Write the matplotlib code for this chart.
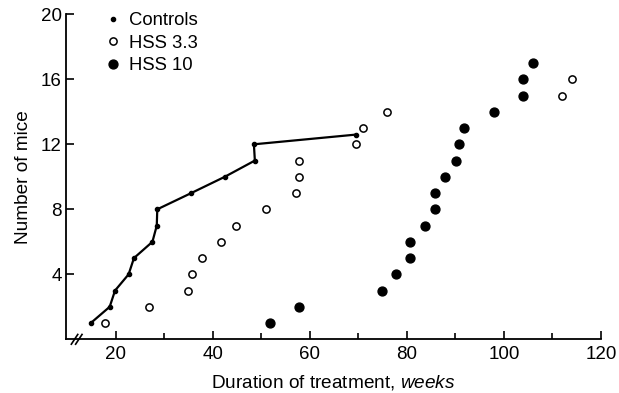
import matplotlib
matplotlib.use("Agg")
import matplotlib.pyplot as plt
from matplotlib.lines import Line2D

plt.rcParams['font.family'] = ['Liberation Sans', 'DejaVu Sans']
plt.rcParams['mathtext.fontset'] = 'custom'
plt.rcParams['mathtext.rm'] = 'Liberation Sans'
plt.rcParams['mathtext.it'] = 'Liberation Sans:italic'

# data (weeks, cumulative number of mice)
ctrl_weeks = [14.9, 18.8, 19.9, 22.7, 23.8, 27.6, 28.5, 28.6, 35.6, 42.5, 48.7, 48.5, 69.6]
ctrl_mice = [1, 2, 3, 4, 5, 6, 7, 8, 9, 10, 11, 12, 12.6]

hss33_weeks = [17.9, 26.9, 34.9, 35.8, 37.8, 41.7, 44.8, 50.9, 57.2, 57.8, 57.7,
               69.6, 70.9, 75.9, 112.0, 114.0]
hss33_mice = [1, 2, 3, 4, 5, 6, 7, 8, 9, 10, 11, 12, 13, 14, 15, 16]

hss10_weeks = [51.9, 57.8, 74.8, 77.8, 80.6, 80.6, 83.8, 85.8, 85.9, 87.8, 90.1,
               90.7, 91.7, 98.0, 103.9, 103.9, 105.9]
hss10_mice = [1, 2, 3, 4, 5, 6, 7, 8, 9, 10, 11, 12, 13, 14, 15, 16, 17]

xticks = [20, 40, 60, 80, 100, 120]
yticks = [4, 8, 12, 16, 20]

fig = plt.figure(figsize=(6.19, 3.93), dpi=100)
ax = fig.add_axes([0.1066, 0.1366, 0.971 - 0.1066, 0.9636 - 0.1366])

ax.plot(ctrl_weeks, ctrl_mice, color='black', lw=1.6, marker='o', ms=3.0,
        clip_on=False, zorder=3)
ax.plot(hss33_weeks, hss33_mice, ls='none', marker='o', ms=5.2, mfc='white',
        mec='black', mew=1.1, clip_on=False, zorder=3)
ax.plot(hss10_weeks, hss10_mice, ls='none', marker='o', ms=6.4, color='black',
        clip_on=False, zorder=3)

ax.set_xlim(9.8, 120)
ax.set_ylim(0, 20)
ax.set_xticks(xticks)
ax.set_xticks([30, 50, 70, 90, 110], minor=True)
ax.set_yticks(yticks)
ax.tick_params(which='both', direction='in', labelsize=13.5, width=1.2)
ax.tick_params(which='major', length=6)
ax.tick_params(which='minor', length=4)
ax.tick_params(axis='y', pad=3)
ax.tick_params(axis='x', pad=5)

ax.spines['top'].set_visible(False)
ax.spines['right'].set_visible(False)
ax.spines['left'].set_linewidth(1.3)
ax.spines['bottom'].set_linewidth(1.3)

# axis break marks
for dx in (0.016, 0.024):
    ax.plot([dx - 0.006, dx + 0.006], [-0.015, 0.015], transform=ax.transAxes,
            color='black', lw=1.2, clip_on=False)

ax.set_xlabel("Duration of treatment, $\\it{weeks}$", fontsize=13.7, labelpad=7)
ax.set_ylabel("Number of mice", fontsize=13.7, labelpad=6)

handles = [
    Line2D([], [], ls='none', marker='o', ms=3.0, color='black'),
    Line2D([], [], ls='none', marker='o', ms=5.2, mfc='white', mec='black', mew=1.1),
    Line2D([], [], ls='none', marker='o', ms=6.4, color='black'),
]
ax.legend(handles, ["Controls", "HSS 3.3", "HSS 10"], loc='upper left',
          bbox_to_anchor=(0.05, 1.035), frameon=False, fontsize=13.3,
          handletextpad=0.25, labelspacing=0.3, handlelength=1.2, borderpad=0)

fig.savefig("out.png", dpi=100)
